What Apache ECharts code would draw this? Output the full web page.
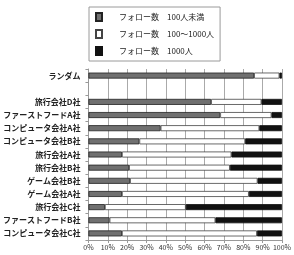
<!DOCTYPE html>
<html>
<head>
<meta charset="utf-8">
<script src="https://cdn.jsdelivr.net/npm/echarts@6/dist/echarts.min.js"></script>
<style>
html,body{margin:0;padding:0;background:#fff;}
#main{width:294px;height:255px;}
</style>
</head>
<body>
<div id="main"></div>
<script>
var categories = ['ランダム','','旅行会社D社','ファーストフードA社','コンピュータ会社A社','コンピュータ会社B社',
	'旅行会社A社','旅行会社B社','ゲーム会社B社','ゲーム会社A社','旅行会社C社','ファーストフードB社','コンピュータ会社C社'];
var seriesNames = ['フォロー数　100人未満','フォロー数　100～1000人','フォロー数　1000人'];
var under100  = [85.6,'-',63.4,68.1,37.3,26.3,17.3,21.0,21.5,17.3,8.5,10.9,17.3];
var mid100    = [13.1,'-',26.0,26.5,51.0,54.7,56.6,52.1,65.9,65.6,41.8,54.7,69.8];
var over1000  = [1.3,'-',10.6,5.4,11.7,19.0,26.1,26.9,12.6,17.1,49.7,34.4,12.9];
var xTicks = ['0%','10%','20%','30%','40%','50%','60%','70%','80%','90%','100%'];

var fontName = '"Noto Sans CJK JP", sans-serif',
	labelsize = 8, xlabelsize = 7, barw = 6,
	colors = ['#707070','#ffffff','#111111'];

var myChart = echarts.init(document.getElementById('main'));
var option = {
	animation: false,//no animation
	textStyle: {fontFamily: fontName},
	legend: {
		orient: 'vertical',
		left: 89,
		top: 7,
		padding: [5, 6, 5, 6],
		itemGap: 7,
		itemWidth: 6,
		itemHeight: 8,
		icon: 'rect',
		borderColor: '#9a9a9a',
		borderWidth: 1,
		borderRadius: 0,
		data: seriesNames,
		textStyle: {fontSize: 8, color: '#222', padding: [0, 0, 0, 12]}
	},
	grid: {
		left: 87,
		right: 3,
		top: 69,
		bottom: 15,
		containLabel: false
	},
	xAxis: {
		type: 'value',
		min: 0,
		max: 100,
		interval: 10,
		axisLine: {show: true, lineStyle: {color: '#999'}},
		axisTick: {show: true, length: 3, lineStyle: {color: '#999'}},
		splitLine: {show: true, lineStyle: {color: '#aaa', width: 1}},
		axisLabel: {
			fontSize: xlabelsize,
			color: '#333',
			margin: 4,
			formatter: function (v) { return xTicks[Math.round(v / 10)]; }
		}
	},
	yAxis: {
		type: 'category',
		inverse: true,
		data: categories,
		axisLine: {show: true, lineStyle: {color: '#999'}},
		axisTick: {show: true, length: 3, lineStyle: {color: '#999'}},
		splitLine: {show: false},
		axisLabel: {fontSize: labelsize, color: '#222', fontWeight: 'bold', margin: 8}
	},
	series: [
		{
			name: seriesNames[0], type: 'bar', stack: 'all', barWidth: barw,
			data: under100,
			itemStyle: {color: colors[0], borderColor: '#222', borderWidth: 0.8}
		},
		{
			name: seriesNames[1], type: 'bar', stack: 'all', barWidth: barw,
			data: mid100,
			itemStyle: {color: colors[1], borderColor: '#444', borderWidth: 0.8}
		},
		{
			name: seriesNames[2], type: 'bar', stack: 'all', barWidth: barw,
			data: over1000,
			itemStyle: {color: colors[2], borderColor: '#111', borderWidth: 0.8}
		}
	]
};
myChart.setOption(option);
</script>
</body>
</html>
